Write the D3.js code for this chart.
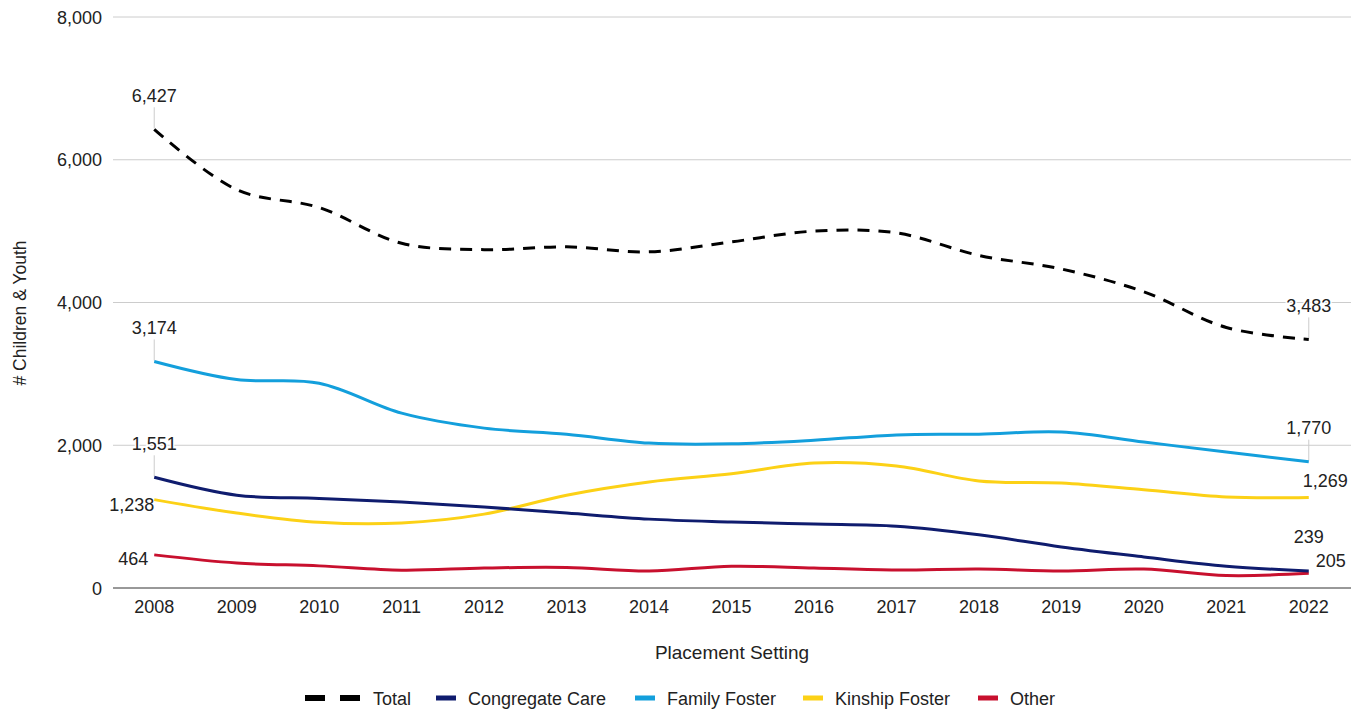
<!DOCTYPE html>
<html><head><meta charset="utf-8">
<script src="https://cdn.jsdelivr.net/npm/d3@7"></script>
<style>
html,body{margin:0;padding:0;background:#fff;}
text{font-family:"Liberation Sans",Arial,sans-serif;}
</style></head>
<body><svg id="c" width="1351" height="709"></svg>
<script>
const years = ["2008","2009","2010","2011","2012","2013","2014","2015","2016","2017","2018","2019","2020","2021","2022"];
const total =      [6427,5580,5330,4830,4740,4780,4710,4850,5000,4975,4660,4470,4150,3650,3483];
const congregate = [1551,1300,1255,1205,1135,1050,965,925,895,865,745,575,435,305,239];
const family =     [3174,2920,2870,2450,2240,2155,2030,2020,2070,2145,2155,2185,2045,1905,1770];
const kinship =    [1238,1050,920,910,1035,1300,1485,1600,1750,1710,1500,1470,1375,1275,1269];
const other =      [464,350,310,250,280,287,238,305,280,252,266,238,266,175,205];
const yTicks = [0,2000,4000,6000,8000];
const seriesNames = ["Total","Congregate Care","Family Foster","Kinship Foster","Other"];
const colors = ["#000000","#0f1c6e","#139fdc","#fcd116","#c8102e"];

const series = [
  {name:seriesNames[0], values:total, color:colors[0], dash:"12,9"},
  {name:seriesNames[1], values:congregate, color:colors[1]},
  {name:seriesNames[2], values:family, color:colors[2]},
  {name:seriesNames[3], values:kinship, color:colors[3]},
  {name:seriesNames[4], values:other, color:colors[4]}
];

const svg = d3.select("#c");
const pLeft=113, pRight=1350, pTop=17, pBottom=588;
const x = d3.scalePoint().domain(years).range([pLeft,pRight]).padding(0.5);
const y = d3.scaleLinear().domain([0,8000]).range([pBottom,pTop]);
const fmt = d3.format(",");
const txt = "#222";

// gridlines
svg.append("g").selectAll("line").data(yTicks.filter(d=>d>0)).join("line")
  .attr("x1",pLeft).attr("x2",1351).attr("y1",d=>y(d)).attr("y2",d=>y(d))
  .attr("stroke","#cccccc").attr("stroke-width",1);
// y tick labels
svg.append("g").selectAll("text").data(yTicks).join("text")
  .attr("x",102).attr("y",d=>y(d)+6.5).attr("text-anchor","end")
  .attr("font-size",18).attr("fill",txt).text(d=>fmt(d));
// x labels
svg.append("g").selectAll("text").data(years).join("text")
  .attr("x",d=>x(d)).attr("y",613).attr("text-anchor","middle")
  .attr("font-size",18).attr("fill",txt).text(d=>d);
// titles
svg.append("text").attr("x",732).attr("y",659).attr("text-anchor","middle")
  .attr("font-size",19).attr("fill",txt).text("Placement Setting");
svg.append("text").attr("transform","translate(26,313) rotate(-90)").attr("text-anchor","middle")
  .attr("font-size",17.5).attr("fill",txt).text("# Children & Youth");

// [series, point, anchor, dx, dy(baseline from point), leader]
const labels = [
  [0,0,"middle",0,-27,true],[2,0,"middle",0,-27,true],[1,0,"middle",0,-27,true],
  [3,0,"end",0,11.5,false],[4,0,"end",-6,10,false],
  [0,14,"middle",0,-27.5,true],[2,14,"middle",0,-27.5,true],[3,14,"start",-6,-10.5,false],
  [1,14,"middle",0,-27.5,false],[4,14,"start",7,-6.5,false]
];
const lg = svg.append("g");
labels.forEach(([si,pi,anchor,dx,dy,leader])=>{
  const s = series[si];
  const px = x(years[pi]), py = y(s.values[pi]);
  if(leader){
    lg.append("line").attr("x1",px).attr("x2",px).attr("y1",py-1).attr("y2",py-22)
      .attr("stroke","#cccccc").attr("stroke-width",1);
  }
  lg.append("text").attr("x",px+dx).attr("y",py+dy).attr("text-anchor",anchor)
    .attr("font-size",18).attr("fill",txt)
    .attr("stroke","#fff").attr("stroke-width",3).attr("paint-order","stroke")
    .text(fmt(s.values[pi]));
});

// baseline
svg.append("line").attr("x1",pLeft).attr("x2",1351).attr("y1",y(0)).attr("y2",y(0))
  .attr("stroke","#333").attr("stroke-width",1);

// lines
const line = d3.line().x((d,i)=>x(years[i])).y(d=>y(d)).curve(d3.curveCatmullRom.alpha(0.5));
const order = [4,3,1,2,0];
svg.append("g").selectAll("path").data(order.map(i=>series[i])).join("path")
  .attr("d",d=>line(d.values)).attr("fill","none")
  .attr("stroke",d=>d.color).attr("stroke-width",3)
  .attr("stroke-dasharray",d=>d.dash||null);

// legend
const legItems = [
  {s:series[0], ix:305, tx:373},
  {s:series[1], ix:436, tx:468},
  {s:series[2], ix:635, tx:667},
  {s:series[3], ix:803, tx:835},
  {s:series[4], ix:978, tx:1010}
];
const leg = svg.append("g");
legItems.forEach(it=>{
  if(it.s.dash){
    leg.append("rect").attr("x",it.ix).attr("y",695).attr("width",20).attr("height",6).attr("fill",it.s.color);
    leg.append("rect").attr("x",it.ix+35).attr("y",695).attr("width",20).attr("height",6).attr("fill",it.s.color);
  } else {
    leg.append("rect").attr("x",it.ix).attr("y",695.5).attr("width",20).attr("height",5).attr("fill",it.s.color);
  }
  leg.append("text").attr("x",it.tx).attr("y",705).attr("font-size",18).attr("fill",txt)
    .text(it.s.name);
});
</script></body></html>
